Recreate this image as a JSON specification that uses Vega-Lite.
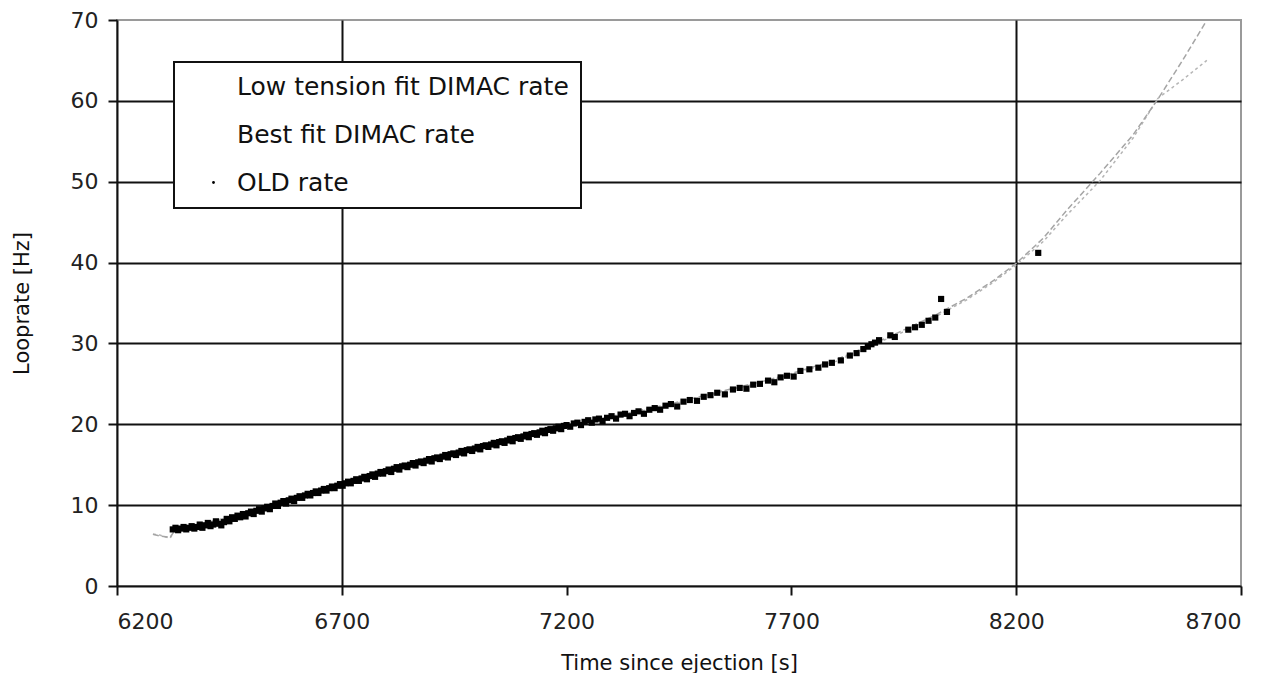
{
  "$schema": "https://vega.github.io/schema/vega-lite/v6.json",
  "width": 1124,
  "height": 566,
  "autosize": {"type": "none"},
  "padding": {"left": 117, "top": 20, "right": 29, "bottom": 87},
  "background": "white",
  "config": {
    "font": "DejaVu Sans",
    "view": {"stroke": "#9a9a9a", "strokeWidth": 2},
    "axis": {
      "domainColor": "#111", "domainWidth": 2,
      "tickColor": "#111", "tickWidth": 2, "tickSize": 9,
      "labelFont": "DejaVu Sans", "labelFontSize": 22, "labelColor": "#222",
      "titleFont": "DejaVu Sans", "titleFontSize": 21, "titleFontWeight": "normal", "titleColor": "#111",
      "gridColor": "#111", "gridWidth": 2
    }
  },
  "datasets": {
    "fit": [
      {"series": "Low tension fit DIMAC rate", "t": 6280, "r": 6.4},
      {"series": "Low tension fit DIMAC rate", "t": 6295, "r": 6.3},
      {"series": "Low tension fit DIMAC rate", "t": 6305, "r": 6.1},
      {"series": "Low tension fit DIMAC rate", "t": 6318, "r": 5.9},
      {"series": "Low tension fit DIMAC rate", "t": 6330, "r": 7.0},
      {"series": "Low tension fit DIMAC rate", "t": 6450, "r": 8.4},
      {"series": "Low tension fit DIMAC rate", "t": 6550, "r": 10.0},
      {"series": "Low tension fit DIMAC rate", "t": 6700, "r": 12.5},
      {"series": "Low tension fit DIMAC rate", "t": 6900, "r": 15.5},
      {"series": "Low tension fit DIMAC rate", "t": 7100, "r": 18.4},
      {"series": "Low tension fit DIMAC rate", "t": 7200, "r": 19.8},
      {"series": "Low tension fit DIMAC rate", "t": 7320, "r": 21.1},
      {"series": "Low tension fit DIMAC rate", "t": 7430, "r": 22.4},
      {"series": "Low tension fit DIMAC rate", "t": 7530, "r": 23.8},
      {"series": "Low tension fit DIMAC rate", "t": 7650, "r": 25.4},
      {"series": "Low tension fit DIMAC rate", "t": 7720, "r": 26.5},
      {"series": "Low tension fit DIMAC rate", "t": 7800, "r": 27.8},
      {"series": "Low tension fit DIMAC rate", "t": 7880, "r": 29.8},
      {"series": "Low tension fit DIMAC rate", "t": 7940, "r": 31.2},
      {"series": "Low tension fit DIMAC rate", "t": 8020, "r": 33.3},
      {"series": "Low tension fit DIMAC rate", "t": 8090, "r": 35.4},
      {"series": "Low tension fit DIMAC rate", "t": 8150, "r": 37.6},
      {"series": "Low tension fit DIMAC rate", "t": 8200, "r": 39.7},
      {"series": "Low tension fit DIMAC rate", "t": 8260, "r": 42.6},
      {"series": "Low tension fit DIMAC rate", "t": 8313, "r": 45.9},
      {"series": "Low tension fit DIMAC rate", "t": 8386, "r": 50.1},
      {"series": "Low tension fit DIMAC rate", "t": 8460, "r": 55.4},
      {"series": "Low tension fit DIMAC rate", "t": 8515, "r": 60.3},
      {"series": "Low tension fit DIMAC rate", "t": 8570, "r": 62.6},
      {"series": "Low tension fit DIMAC rate", "t": 8624, "r": 65.0},
      {"series": "Best fit DIMAC rate", "t": 6280, "r": 6.4},
      {"series": "Best fit DIMAC rate", "t": 6295, "r": 6.2},
      {"series": "Best fit DIMAC rate", "t": 6318, "r": 6.0},
      {"series": "Best fit DIMAC rate", "t": 6330, "r": 7.0},
      {"series": "Best fit DIMAC rate", "t": 6450, "r": 8.5},
      {"series": "Best fit DIMAC rate", "t": 6550, "r": 10.1},
      {"series": "Best fit DIMAC rate", "t": 6700, "r": 12.6},
      {"series": "Best fit DIMAC rate", "t": 6900, "r": 15.6},
      {"series": "Best fit DIMAC rate", "t": 7100, "r": 18.5},
      {"series": "Best fit DIMAC rate", "t": 7200, "r": 19.9},
      {"series": "Best fit DIMAC rate", "t": 7320, "r": 21.2},
      {"series": "Best fit DIMAC rate", "t": 7430, "r": 22.5},
      {"series": "Best fit DIMAC rate", "t": 7530, "r": 23.9},
      {"series": "Best fit DIMAC rate", "t": 7650, "r": 25.5},
      {"series": "Best fit DIMAC rate", "t": 7720, "r": 26.6},
      {"series": "Best fit DIMAC rate", "t": 7800, "r": 28.0},
      {"series": "Best fit DIMAC rate", "t": 7880, "r": 29.9},
      {"series": "Best fit DIMAC rate", "t": 7940, "r": 31.4},
      {"series": "Best fit DIMAC rate", "t": 8020, "r": 33.5},
      {"series": "Best fit DIMAC rate", "t": 8090, "r": 35.6},
      {"series": "Best fit DIMAC rate", "t": 8150, "r": 37.8},
      {"series": "Best fit DIMAC rate", "t": 8200, "r": 39.9},
      {"series": "Best fit DIMAC rate", "t": 8260, "r": 43.0},
      {"series": "Best fit DIMAC rate", "t": 8313, "r": 46.5},
      {"series": "Best fit DIMAC rate", "t": 8386, "r": 51.0},
      {"series": "Best fit DIMAC rate", "t": 8460, "r": 55.8},
      {"series": "Best fit DIMAC rate", "t": 8515, "r": 60.2},
      {"series": "Best fit DIMAC rate", "t": 8570, "r": 65.0},
      {"series": "Best fit DIMAC rate", "t": 8620, "r": 69.6}
    ],
    "old": [
      {"series":"OLD rate","t":6324,"r":7.0},{"series":"OLD rate","t":6330,"r":7.2},{"series":"OLD rate","t":6336,"r":6.9},{"series":"OLD rate","t":6342,"r":7.1},
      {"series":"OLD rate","t":6348,"r":7.3},{"series":"OLD rate","t":6354,"r":7.0},{"series":"OLD rate","t":6360,"r":7.2},{"series":"OLD rate","t":6366,"r":7.4},
      {"series":"OLD rate","t":6372,"r":7.1},{"series":"OLD rate","t":6378,"r":7.3},{"series":"OLD rate","t":6384,"r":7.6},{"series":"OLD rate","t":6390,"r":7.2},
      {"series":"OLD rate","t":6396,"r":7.5},{"series":"OLD rate","t":6402,"r":7.8},{"series":"OLD rate","t":6408,"r":7.4},{"series":"OLD rate","t":6414,"r":7.6},
      {"series":"OLD rate","t":6420,"r":8.0},{"series":"OLD rate","t":6426,"r":7.7},{"series":"OLD rate","t":6432,"r":7.5},{"series":"OLD rate","t":6438,"r":7.9},
      {"series":"OLD rate","t":6444,"r":8.3},{"series":"OLD rate","t":6450,"r":8.0},{"series":"OLD rate","t":6456,"r":8.5},{"series":"OLD rate","t":6462,"r":8.3},
      {"series":"OLD rate","t":6468,"r":8.7},{"series":"OLD rate","t":6474,"r":8.5},{"series":"OLD rate","t":6480,"r":8.9},{"series":"OLD rate","t":6486,"r":8.6},
      {"series":"OLD rate","t":6492,"r":9.0},{"series":"OLD rate","t":6498,"r":9.2},{"series":"OLD rate","t":6504,"r":8.9},{"series":"OLD rate","t":6510,"r":9.3},
      {"series":"OLD rate","t":6516,"r":9.5},{"series":"OLD rate","t":6522,"r":9.2},{"series":"OLD rate","t":6528,"r":9.6},{"series":"OLD rate","t":6534,"r":9.8},
      {"series":"OLD rate","t":6540,"r":9.5},{"series":"OLD rate","t":6546,"r":9.9},{"series":"OLD rate","t":6552,"r":10.2},{"series":"OLD rate","t":6558,"r":9.9},
      {"series":"OLD rate","t":6564,"r":10.3},{"series":"OLD rate","t":6570,"r":10.5},{"series":"OLD rate","t":6576,"r":10.2},{"series":"OLD rate","t":6582,"r":10.6},
      {"series":"OLD rate","t":6588,"r":10.8},{"series":"OLD rate","t":6594,"r":10.5},{"series":"OLD rate","t":6600,"r":10.9},{"series":"OLD rate","t":6606,"r":11.1},
      {"series":"OLD rate","t":6612,"r":10.9},{"series":"OLD rate","t":6618,"r":11.2},{"series":"OLD rate","t":6624,"r":11.4},{"series":"OLD rate","t":6630,"r":11.2},
      {"series":"OLD rate","t":6636,"r":11.5},{"series":"OLD rate","t":6642,"r":11.7},{"series":"OLD rate","t":6648,"r":11.5},{"series":"OLD rate","t":6654,"r":11.8},
      {"series":"OLD rate","t":6660,"r":12.0},{"series":"OLD rate","t":6666,"r":11.8},{"series":"OLD rate","t":6672,"r":12.1},{"series":"OLD rate","t":6678,"r":12.3},
      {"series":"OLD rate","t":6684,"r":12.1},{"series":"OLD rate","t":6690,"r":12.4},{"series":"OLD rate","t":6696,"r":12.6},{"series":"OLD rate","t":6702,"r":12.4},
      {"series":"OLD rate","t":6708,"r":12.7},{"series":"OLD rate","t":6714,"r":12.9},{"series":"OLD rate","t":6720,"r":12.7},{"series":"OLD rate","t":6726,"r":13.0},
      {"series":"OLD rate","t":6732,"r":13.2},{"series":"OLD rate","t":6738,"r":13.0},{"series":"OLD rate","t":6744,"r":13.3},{"series":"OLD rate","t":6750,"r":13.5},
      {"series":"OLD rate","t":6756,"r":13.2},{"series":"OLD rate","t":6762,"r":13.6},{"series":"OLD rate","t":6768,"r":13.8},{"series":"OLD rate","t":6774,"r":13.5},
      {"series":"OLD rate","t":6780,"r":13.9},{"series":"OLD rate","t":6786,"r":14.1},{"series":"OLD rate","t":6792,"r":13.9},{"series":"OLD rate","t":6798,"r":14.2},
      {"series":"OLD rate","t":6804,"r":14.4},{"series":"OLD rate","t":6810,"r":14.1},{"series":"OLD rate","t":6816,"r":14.5},{"series":"OLD rate","t":6822,"r":14.7},
      {"series":"OLD rate","t":6828,"r":14.4},{"series":"OLD rate","t":6834,"r":14.8},{"series":"OLD rate","t":6840,"r":14.9},{"series":"OLD rate","t":6846,"r":14.7},
      {"series":"OLD rate","t":6852,"r":15.0},{"series":"OLD rate","t":6858,"r":15.2},{"series":"OLD rate","t":6864,"r":14.9},{"series":"OLD rate","t":6870,"r":15.3},
      {"series":"OLD rate","t":6876,"r":15.4},{"series":"OLD rate","t":6882,"r":15.2},{"series":"OLD rate","t":6888,"r":15.5},{"series":"OLD rate","t":6894,"r":15.7},
      {"series":"OLD rate","t":6900,"r":15.4},{"series":"OLD rate","t":6906,"r":15.8},{"series":"OLD rate","t":6912,"r":15.9},{"series":"OLD rate","t":6918,"r":15.7},
      {"series":"OLD rate","t":6924,"r":16.0},{"series":"OLD rate","t":6930,"r":16.2},{"series":"OLD rate","t":6936,"r":15.9},{"series":"OLD rate","t":6942,"r":16.3},
      {"series":"OLD rate","t":6948,"r":16.4},{"series":"OLD rate","t":6954,"r":16.2},{"series":"OLD rate","t":6960,"r":16.5},{"series":"OLD rate","t":6966,"r":16.7},
      {"series":"OLD rate","t":6972,"r":16.4},{"series":"OLD rate","t":6978,"r":16.8},{"series":"OLD rate","t":6984,"r":16.9},{"series":"OLD rate","t":6990,"r":16.7},
      {"series":"OLD rate","t":6996,"r":17.0},{"series":"OLD rate","t":7002,"r":17.2},{"series":"OLD rate","t":7008,"r":16.9},{"series":"OLD rate","t":7014,"r":17.3},
      {"series":"OLD rate","t":7020,"r":17.4},{"series":"OLD rate","t":7026,"r":17.2},{"series":"OLD rate","t":7032,"r":17.5},{"series":"OLD rate","t":7038,"r":17.7},
      {"series":"OLD rate","t":7044,"r":17.4},{"series":"OLD rate","t":7050,"r":17.8},{"series":"OLD rate","t":7056,"r":17.9},{"series":"OLD rate","t":7062,"r":17.7},
      {"series":"OLD rate","t":7068,"r":18.0},{"series":"OLD rate","t":7074,"r":18.2},{"series":"OLD rate","t":7080,"r":17.9},{"series":"OLD rate","t":7086,"r":18.3},
      {"series":"OLD rate","t":7092,"r":18.4},{"series":"OLD rate","t":7098,"r":18.2},{"series":"OLD rate","t":7104,"r":18.5},{"series":"OLD rate","t":7110,"r":18.7},
      {"series":"OLD rate","t":7116,"r":18.4},{"series":"OLD rate","t":7122,"r":18.8},{"series":"OLD rate","t":7128,"r":18.9},{"series":"OLD rate","t":7134,"r":18.7},
      {"series":"OLD rate","t":7140,"r":19.0},{"series":"OLD rate","t":7146,"r":19.2},{"series":"OLD rate","t":7152,"r":18.9},{"series":"OLD rate","t":7158,"r":19.3},
      {"series":"OLD rate","t":7164,"r":19.4},{"series":"OLD rate","t":7170,"r":19.2},{"series":"OLD rate","t":7176,"r":19.5},{"series":"OLD rate","t":7182,"r":19.7},
      {"series":"OLD rate","t":7188,"r":19.4},{"series":"OLD rate","t":7194,"r":19.8},{"series":"OLD rate","t":7200,"r":19.9},{"series":"OLD rate","t":7208,"r":19.7},
      {"series":"OLD rate","t":7216,"r":20.1},{"series":"OLD rate","t":7224,"r":20.2},{"series":"OLD rate","t":7232,"r":19.9},{"series":"OLD rate","t":7240,"r":20.3},
      {"series":"OLD rate","t":7248,"r":20.5},{"series":"OLD rate","t":7256,"r":20.2},{"series":"OLD rate","t":7264,"r":20.6},{"series":"OLD rate","t":7272,"r":20.7},
      {"series":"OLD rate","t":7280,"r":20.4},{"series":"OLD rate","t":7290,"r":20.8},{"series":"OLD rate","t":7300,"r":21.0},{"series":"OLD rate","t":7310,"r":20.7},
      {"series":"OLD rate","t":7320,"r":21.2},{"series":"OLD rate","t":7330,"r":21.3},{"series":"OLD rate","t":7340,"r":21.0},{"series":"OLD rate","t":7350,"r":21.4},
      {"series":"OLD rate","t":7360,"r":21.6},{"series":"OLD rate","t":7372,"r":21.3},{"series":"OLD rate","t":7384,"r":21.8},{"series":"OLD rate","t":7396,"r":22.0},
      {"series":"OLD rate","t":7408,"r":21.8},{"series":"OLD rate","t":7420,"r":22.3},{"series":"OLD rate","t":7432,"r":22.5},{"series":"OLD rate","t":7446,"r":22.2},
      {"series":"OLD rate","t":7460,"r":22.8},{"series":"OLD rate","t":7474,"r":23.0},{"series":"OLD rate","t":7490,"r":22.9},{"series":"OLD rate","t":7505,"r":23.4},
      {"series":"OLD rate","t":7520,"r":23.6},{"series":"OLD rate","t":7535,"r":23.9},{"series":"OLD rate","t":7552,"r":23.7},{"series":"OLD rate","t":7570,"r":24.3},
      {"series":"OLD rate","t":7585,"r":24.5},{"series":"OLD rate","t":7600,"r":24.4},{"series":"OLD rate","t":7615,"r":24.9},{"series":"OLD rate","t":7630,"r":25.0},
      {"series":"OLD rate","t":7648,"r":25.4},{"series":"OLD rate","t":7662,"r":25.2},{"series":"OLD rate","t":7676,"r":25.8},{"series":"OLD rate","t":7690,"r":26.0},
      {"series":"OLD rate","t":7705,"r":25.9},{"series":"OLD rate","t":7720,"r":26.6},{"series":"OLD rate","t":7740,"r":26.8},{"series":"OLD rate","t":7760,"r":27.0},
      {"series":"OLD rate","t":7775,"r":27.4},{"series":"OLD rate","t":7790,"r":27.6},{"series":"OLD rate","t":7810,"r":27.9},{"series":"OLD rate","t":7830,"r":28.5},
      {"series":"OLD rate","t":7845,"r":28.8},{"series":"OLD rate","t":7860,"r":29.3},{"series":"OLD rate","t":7870,"r":29.6},{"series":"OLD rate","t":7878,"r":29.9},
      {"series":"OLD rate","t":7886,"r":30.1},{"series":"OLD rate","t":7895,"r":30.4},{"series":"OLD rate","t":7920,"r":31.0},{"series":"OLD rate","t":7930,"r":30.8},
      {"series":"OLD rate","t":7960,"r":31.7},{"series":"OLD rate","t":7975,"r":32.0},{"series":"OLD rate","t":7990,"r":32.3},{"series":"OLD rate","t":8005,"r":32.8},
      {"series":"OLD rate","t":8020,"r":33.2},{"series":"OLD rate","t":8033,"r":35.5},{"series":"OLD rate","t":8046,"r":33.9},{"series":"OLD rate","t":8249,"r":41.2}
    ]
  },
  "encoding": {
    "x": {
      "field": "t", "type": "quantitative",
      "scale": {"domain": [6200, 8700], "nice": false, "zero": false},
      "axis": {
        "title": "Time since ejection [s]",
        "values": [6200, 6700, 7200, 7700, 8200, 8700],
        "format": "d",
        "labelPadding": 16,
        "titlePadding": 20,
        "grid": true,
        "gridOpacity": {"condition": {"test": "datum.value === 6700 || datum.value === 8200", "value": 1}, "value": 0}
      }
    },
    "y": {
      "field": "r", "type": "quantitative",
      "scale": {"domain": [0, 70], "nice": false},
      "axis": {
        "title": "Looprate [Hz]",
        "values": [0, 10, 20, 30, 40, 50, 60, 70],
        "labelPadding": 10,
        "titlePadding": 38,
        "grid": true,
        "gridOpacity": {"condition": {"test": "datum.value === 70 || datum.value === 0", "value": 0}, "value": 1}
      }
    },
    "color": {
      "field": "series", "type": "nominal",
      "scale": {
        "domain": ["Low tension fit DIMAC rate", "Best fit DIMAC rate", "OLD rate"],
        "range": ["#b5b5b5", "#a5a5a5", "#000000"]
      },
      "legend": {
        "orient": "none", "legendX": 57, "legendY": 42,
        "title": null,
        "strokeColor": "#111", "fillColor": "white",
        "padding": 12,
        "labelFont": "DejaVu Sans", "labelFontSize": 25, "labelColor": "#111",
        "labelLimit": 600,
        "rowPadding": 22,
        "symbolType": "circle",
        "symbolSize": 30,
        "symbolStrokeWidth": 0,
        "symbolOffset": 15,
        "labelOffset": 11,
        "encode": {
          "legend": {"update": {"strokeWidth": {"value": 2}}},
          "symbols": {"update": {"size": {"signal": "datum.value === 'OLD rate' ? 8 : 0"}, "fill": {"signal": "datum.value === 'OLD rate' ? '#000' : 'transparent'"}, "strokeWidth": {"value": 0}}}
        }
      }
    }
  },
  "layer": [
    {
      "data": {"name": "fit"},
      "mark": {"type": "line", "strokeWidth": 1.5},
      "encoding": {
        "strokeDash": {
          "field": "series", "type": "nominal",
          "scale": {"domain": ["Low tension fit DIMAC rate", "Best fit DIMAC rate"], "range": [[3, 3], [6, 3]]},
          "legend": null
        }
      }
    },
    {
      "data": {"name": "old"},
      "mark": {"type": "point", "filled": true, "size": 38, "opacity": 1, "shape": "square"}
    }
  ]
}
